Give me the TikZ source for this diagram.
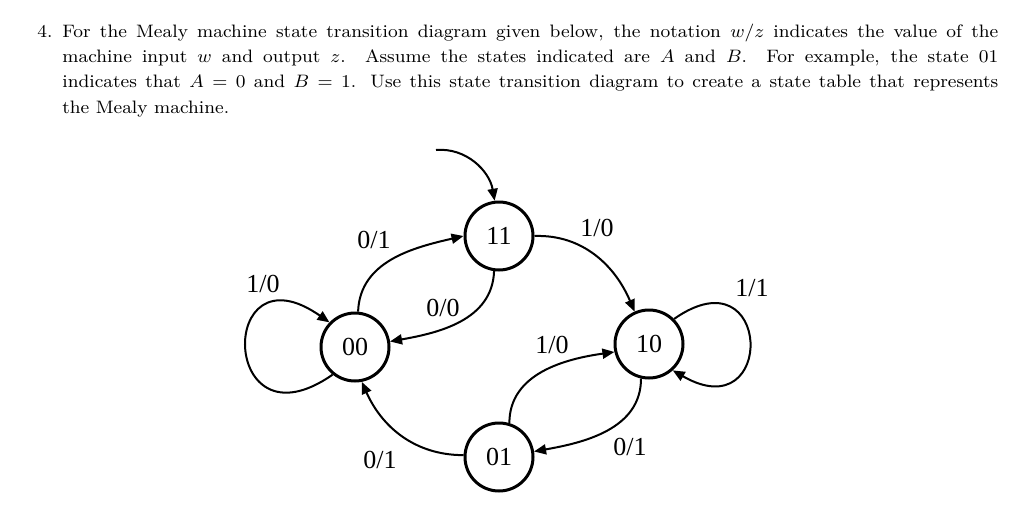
\documentclass[tikz,border=0pt]{standalone}
\usepackage{fontspec}
\newfontfamily\diagfont{Liberation Serif}
\usetikzlibrary{arrows.meta}
\tikzset{
  mstate/.style={draw,circle,line width=1.5pt,minimum size=34pt,inner sep=0pt,font=\diagfont\fontsize{13}{13}\selectfont},
  trlabel/.style={inner sep=0pt,font=\diagfont\fontsize{13}{13}\selectfont},
  trans/.style={line width=1pt,-{Triangle[length=6pt,width=5pt]}}
}

\begin{document}
\begin{tikzpicture}[x=0.5pt,y=0.5pt]
  \useasboundingbox (0,0) rectangle (1024,-531);
  \node[anchor=base west,inner sep=0pt] (task) at (37,-37)
    {\scalebox{1.05}[1]{\parbox[t]{457.6pt}{\fontsize{9}{12.7}\selectfont
     \noindent\hangindent=11.9pt\hangafter=1\makebox[11.9pt][l]{4.}For the Mealy machine state transition diagram given below, the notation $w/z$ indicates the value of the\linebreak
     machine input $w$ and output $z$. Assume the states indicated are $A$ and $B$. For example, the state 01\linebreak
     indicates that $A=0$ and $B=1$. Use this state transition diagram to create a state table that represents\linebreak
     the Mealy machine.\par}}};

  % states
  \node[mstate] (s11) at (499,-236) {11};
  \node[mstate] (s00) at (355,-347) {00};
  \node[mstate] (s10) at (649,-344) {10};
  \node[mstate] (s01) at (499,-457) {01};
  \coordinate (start) at (436,-150);

  % transitions
  \draw[trans] (start) to[out=5,in=100] (s11.97);
  \draw[trans] (s00.85) to[out=88,in=193] (s11.180);
  \draw[trans] (s11.262) to[out=268,in=10] (s00.9);
  \draw[trans] (s00.231) to[out=215,in=145,distance=69pt] (s00.136);
  \draw[trans] (s11.0) to[out=2,in=113] (s10.114);
  \draw[trans] (s10.45) to[out=35,in=330,distance=60pt] (s10.312);
  \draw[trans] (s01.73) to[out=90,in=188] (s10.193);
  \draw[trans] (s10.257) to[out=270,in=10] (s01.9);
  \draw[trans] (s01.177) to[out=180,in=294] (s00.281);

  % labels w/z
  \node[trlabel] (l0011) at (374,-240) {0/1};
  \node[trlabel] (l1100) at (443,-308) {0/0};
  \node[trlabel] (l0000) at (263,-284) {1/0};
  \node[trlabel] (l1110) at (597,-228) {1/0};
  \node[trlabel] (l1010) at (752,-288) {1/1};
  \node[trlabel] (l0110) at (552,-345) {1/0};
  \node[trlabel] (l1001) at (630,-447) {0/1};
  \node[trlabel] (l0100) at (380,-460) {0/1};
\end{tikzpicture}
\end{document}
